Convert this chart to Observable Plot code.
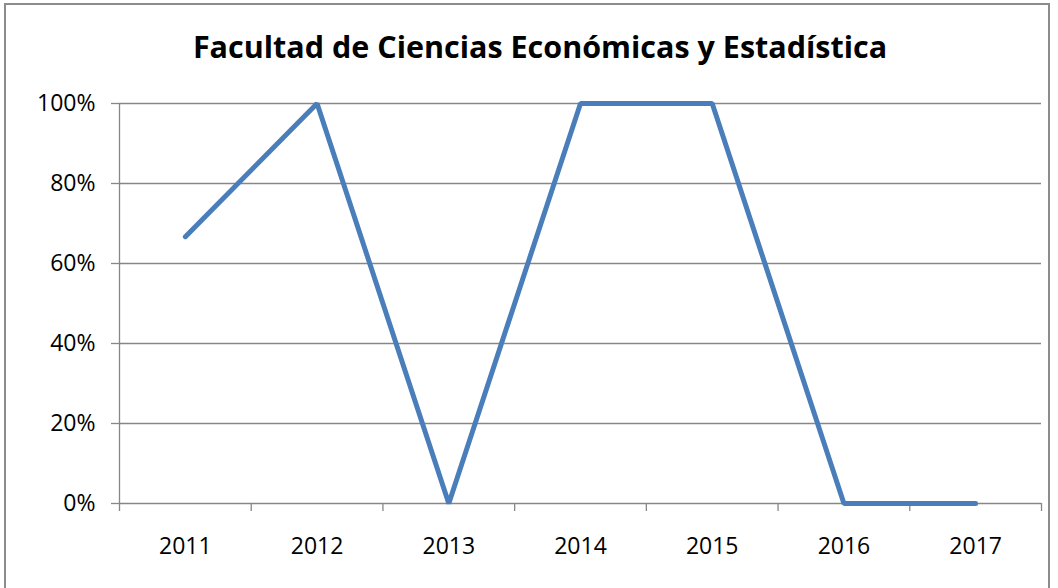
<!DOCTYPE html>
<html><head><meta charset="utf-8">
<script src="https://cdn.jsdelivr.net/npm/d3@7"></script>
<script src="https://cdn.jsdelivr.net/npm/@observablehq/plot@0.6"></script>
<style>
body{margin:0;background:#fff;overflow:hidden;}
#wrap{position:relative;width:1058px;height:588px;}
#frame{position:absolute;left:4px;top:3px;width:1046px;height:620px;border:2px solid #8c8c8c;box-sizing:border-box;}
#title{position:absolute;left:0;width:1080px;top:25px;text-align:center;font-family:"Open Sans",sans-serif;font-weight:bold;font-size:30.5px;color:#000;}
#chart{position:absolute;left:0;top:0;}
</style></head>
<body><div id="wrap"><div id="frame"></div><div id="title">Facultad de Ciencias Económicas y Estadística</div><div id="chart"></div></div>
<script>
const years = ["2011","2012","2013","2014","2015","2016","2017"];
const values = [0.667, 1, 0, 1, 1, 0, 0];
const yTicks = [0, 0.2, 0.4, 0.6, 0.8, 1];
const data = years.map((y, i) => ({pos: i + 0.5, year: y, value: values[i]}));
const grid = "#878787";
const plot = Plot.plot({
  width: 1058, height: 588,
  marginLeft: 119, marginRight: 17, marginTop: 103, marginBottom: 85,
  style: {fontFamily: "Open Sans, sans-serif", fontSize: "23px", color: "#000", background: "transparent"},
  x: {domain: [0, years.length]},
  y: {domain: [0, 1]},
  marks: [
    Plot.gridY(yTicks, {stroke: grid, strokeOpacity: 1, strokeWidth: 1.3}),
    Plot.ruleX([0], {stroke: grid, strokeWidth: 1.3}),
    Plot.axisY(yTicks, {tickSize: 8, tickPadding: 16, stroke: grid, strokeWidth: 1.3, tickFormat: d => Math.round(d * 100) + "%", fontSize: 23, label: null}),
    Plot.axisX(d3.range(0, years.length + 1), {tickSize: 8, stroke: grid, strokeWidth: 1.3, tickFormat: () => "", label: null}),
    Plot.axisX(data.map(d => d.pos), {tickSize: 0, tickPadding: 34, tickFormat: d => years[d - 0.5], fontSize: 23, label: null}),
    Plot.lineY(data, {x: "pos", y: "value", stroke: "#4a7ebb", strokeWidth: 5, strokeLinecap: "round", strokeLinejoin: "miter"})
  ]
});
document.getElementById("chart").appendChild(plot);
</script></body></html>
